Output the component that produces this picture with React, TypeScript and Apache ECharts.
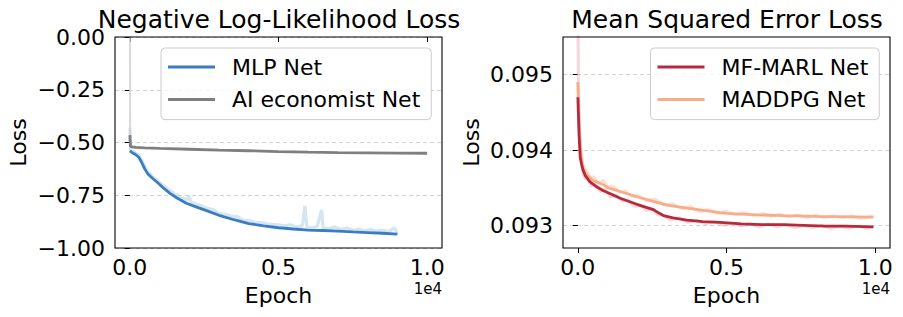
import React, { useEffect, useRef } from "react";
import * as echarts from "echarts";

const FONT = "DejaVu Sans";

// Left panel: Negative Log-Likelihood Loss
const mlpSmooth: number[][] = [
  [0, -0.54], [100, -0.55], [200, -0.558], [300, -0.57], [400, -0.595], [500, -0.625],
  [600, -0.648], [750, -0.668], [900, -0.686], [1100, -0.712], [1350, -0.741], [1600, -0.764],
  [1900, -0.788], [2250, -0.806], [2600, -0.824], [3000, -0.845], [3500, -0.866], [4000, -0.884],
  [4500, -0.895], [5000, -0.904], [5500, -0.91], [6000, -0.915], [6500, -0.917], [7000, -0.92],
  [7500, -0.924], [8000, -0.927], [8500, -0.93], [9000, -0.934],
];
const mlpRaw: number[][] = [
  [0, -0.43], [30, -0.545], [100, -0.54], [200, -0.552], [300, -0.56], [400, -0.585], [500, -0.615],
  [600, -0.64], [700, -0.652], [800, -0.668], [900, -0.677], [1000, -0.69], [1100, -0.7],
  [1200, -0.712], [1300, -0.725], [1400, -0.73], [1500, -0.745], [1600, -0.748], [1700, -0.762],
  [1800, -0.765], [1900, -0.772], [2000, -0.755], [2050, -0.78], [2200, -0.79], [2400, -0.8],
  [2600, -0.812], [2800, -0.818], [3000, -0.835], [3200, -0.84], [3400, -0.85], [3600, -0.85],
  [3800, -0.868], [4000, -0.87], [4200, -0.878], [4400, -0.88], [4600, -0.885], [4800, -0.888],
  [5000, -0.89], [5200, -0.895], [5400, -0.89], [5600, -0.9], [5800, -0.895], [5890, -0.8],
  [5950, -0.9], [6100, -0.905], [6300, -0.898], [6450, -0.82], [6500, -0.905], [6700, -0.908],
  [6900, -0.9], [7100, -0.912], [7300, -0.905], [7500, -0.915], [7700, -0.91], [7900, -0.918],
  [8100, -0.912], [8300, -0.92], [8500, -0.915], [8700, -0.922], [8900, -0.905], [9000, -0.93],
];
const aiSmooth: number[][] = [
  [0, -0.465], [20, -0.52], [200, -0.523], [500, -0.525], [1000, -0.528], [2000, -0.532],
  [3000, -0.536], [4000, -0.539], [5000, -0.543], [6000, -0.546], [7000, -0.548], [8000, -0.549],
  [9000, -0.55], [10000, -0.551],
];
const aiRaw: number[][] = [[0, 0.1], [10, -0.5], [30, -0.521], [200, -0.523]];

// Right panel: Mean Squared Error Loss
const mfSmooth: number[][] = [
  [0, 0.0947], [40, 0.0942], [80, 0.0939], [120, 0.09382], [170, 0.09374], [250, 0.09366],
  [400, 0.09358], [600, 0.09352], [861, 0.09346], [1150, 0.09341], [1423, 0.09336], [1700, 0.09332],
  [1985, 0.09328], [2300, 0.09324], [2543, 0.09321], [2700, 0.09317], [2880, 0.09313], [3200, 0.0931],
  [3666, 0.09307], [4200, 0.09305], [4785, 0.09304], [5500, 0.09302], [6200, 0.09301], [6916, 0.09301],
  [7600, 0.093], [8300, 0.09299], [9000, 0.09299], [9943, 0.09298],
];
const mfRaw: number[][] = [
  [0, 0.0962], [15, 0.095], [40, 0.0943], [80, 0.09392], [120, 0.09385], [170, 0.0937], [250, 0.09362],
  [350, 0.09362], [450, 0.09352], [600, 0.09355], [750, 0.09345], [900, 0.09348], [1100, 0.09338],
  [1300, 0.0934], [1500, 0.09332], [1700, 0.09334], [1900, 0.09325], [2100, 0.09327], [2300, 0.0932],
  [2500, 0.09322], [2700, 0.09314], [2900, 0.09313], [3100, 0.09307], [3400, 0.0931], [3700, 0.09304],
  [4000, 0.09307], [4300, 0.09302], [4600, 0.09305], [4900, 0.093], [5200, 0.09303], [5500, 0.09299],
  [5800, 0.09302], [6100, 0.09298], [6400, 0.09302], [6700, 0.09298], [7000, 0.09301], [7300, 0.09297],
  [7600, 0.093], [7900, 0.09297], [8200, 0.093], [8500, 0.09296], [8800, 0.09299], [9100, 0.09296],
  [9400, 0.09299], [9700, 0.09296], [9943, 0.09298],
];
const maddpgSmooth: number[][] = [
  [0, 0.0949], [30, 0.0945], [60, 0.0942], [100, 0.09395], [150, 0.0938], [200, 0.09373],
  [300, 0.09367], [500, 0.0936], [861, 0.09354], [1000, 0.0935], [1423, 0.09345], [1985, 0.09338],
  [2543, 0.09332], [3000, 0.09327], [3666, 0.09323], [4785, 0.09317], [5012, 0.09316], [6000, 0.09314],
  [6916, 0.09313], [8000, 0.09312], [9943, 0.09311],
];
const maddpgRaw: number[][] = [
  [0, 0.0949], [30, 0.0946], [60, 0.0942], [100, 0.094], [150, 0.09385], [200, 0.09378], [300, 0.09372],
  [400, 0.09365], [550, 0.09364], [700, 0.09356], [850, 0.0936], [1000, 0.09352], [1200, 0.09352],
  [1400, 0.09344], [1600, 0.09346], [1800, 0.09338], [2000, 0.0934], [2300, 0.09333], [2600, 0.09335],
  [2900, 0.09327], [3200, 0.09329], [3500, 0.09322], [3800, 0.09325], [4100, 0.09318], [4400, 0.09321],
  [4700, 0.09316], [5000, 0.09319], [5300, 0.09314], [5600, 0.09317], [5900, 0.09313], [6200, 0.09316],
  [6500, 0.09312], [6800, 0.09315], [7100, 0.09311], [7400, 0.09314], [7700, 0.0931], [8000, 0.09314],
  [8300, 0.0931], [8600, 0.09313], [8900, 0.0931], [9200, 0.09313], [9500, 0.09309], [9943, 0.09312],
];

const xTicks = [0, 5000, 10000];
const rightYTicks = [0.093, 0.094, 0.095];
const titles = ["Negative Log-Likelihood Loss", "Mean Squared Error Loss"];
const leftNames = ["MLP Net", "AI economist Net"];
const rightNames = ["MF-MARL Net", "MADDPG Net"];

const GRIDS = [
  { left: 115, top: 37, width: 327, height: 211 },
  { left: 563, top: 37, width: 327, height: 211 },
];

export default function App() {
  const ref = useRef<HTMLDivElement>(null);
  useEffect(() => {
    if (!ref.current) return;
    const chart = echarts.init(ref.current, undefined, { renderer: "svg" });
    const txt = { fontFamily: FONT, color: "#000" };
    const xAxisBase = (gi: number) => ({
      type: "value",
      gridIndex: gi,
      min: -500,
      max: 10500,
      name: "Epoch",
      nameLocation: "middle",
      nameGap: 36,
      nameTextStyle: { ...txt, fontSize: 22 },
      axisLine: { show: false },
      axisTick: { show: true, length: 5, customValues: xTicks, lineStyle: { color: "#000", width: 1 } },
      axisLabel: {
        ...txt,
        fontSize: 22,
        margin: 8,
        customValues: xTicks,
        formatter: (v: number) => (v / 10000).toFixed(1),
      },
      splitLine: { show: false },
    });
    const lineS = (name: string, data: number[][], color: string, width: number, gi: number, opacity = 1, z = 2) => ({
      type: "line",
      name,
      data,
      xAxisIndex: gi,
      yAxisIndex: gi,
      showSymbol: false,
      symbol: "none",
      clip: true,
      z,
      lineStyle: { color, width, opacity },
      itemStyle: { color },
    });
    const legendBase = (names: string[], left: number) => ({
      data: names,
      orient: "vertical",
      left,
      top: 48,
      icon: "rect",
      itemWidth: 47,
      itemHeight: 3,
      itemGap: 10.6,
      padding: [8, 11, 9, 7],
      backgroundColor: "rgba(255,255,255,0.8)",
      borderColor: "#cccccc",
      borderWidth: 1,
      borderRadius: 4,
      textStyle: { ...txt, fontSize: 22, padding: [0, 0, 0, 12] },
      selectedMode: false,
    });
    chart.setOption({
      animation: false,
      textStyle: { fontFamily: FONT },
      title: [
        { text: titles[0], left: 279, top: 7, padding: 0, textAlign: "center", textStyle: { ...txt, fontSize: 25, fontWeight: "normal" } },
        { text: titles[1], left: 727, top: 7, padding: 0, textAlign: "center", textStyle: { ...txt, fontSize: 25, fontWeight: "normal" } },
      ],
      grid: GRIDS.map((g) => ({ ...g, containLabel: false })),
      legend: [legendBase(leftNames, 161), legendBase(rightNames, 650.5)],
      xAxis: [xAxisBase(0), xAxisBase(1)],
      yAxis: [
        {
          type: "value",
          gridIndex: 0,
          min: -1,
          max: 0,
          interval: 0.25,
          name: "Loss",
          nameLocation: "middle",
          nameGap: 86,
          nameTextStyle: { ...txt, fontSize: 22 },
          axisLine: { show: false },
          axisTick: { show: true, length: 5, lineStyle: { color: "#000", width: 1 } },
          axisLabel: {
            ...txt,
            fontSize: 22,
            margin: 10,
            formatter: (v: number) => (v < 0 ? "\u2212" : "") + Math.abs(v).toFixed(2),
          },
          splitLine: { show: true, lineStyle: { color: "#d3d3d3", type: [4, 3], width: 1 } },
        },
        {
          type: "value",
          gridIndex: 1,
          min: 0.0927,
          max: 0.0955,
          name: "Loss",
          nameLocation: "middle",
          nameGap: 81,
          nameTextStyle: { ...txt, fontSize: 22 },
          axisLine: { show: false },
          axisTick: { show: true, length: 5, customValues: rightYTicks, lineStyle: { color: "#000", width: 1 } },
          axisLabel: {
            ...txt,
            fontSize: 22,
            margin: 10,
            customValues: rightYTicks,
            formatter: (v: number) => v.toFixed(3),
          },
          splitLine: { show: true, lineStyle: { color: "#d3d3d3", type: [4, 3], width: 1 } },
        },
      ],
      series: [
        lineS("MLP raw", mlpRaw, "#a9cbe8", 3.2, 0, 0.5, 1),
        lineS("AI raw", aiRaw, "#cfcfcf", 2, 0, 0.8, 1),
        lineS(leftNames[0], mlpSmooth, "#3a7dc0", 2.8, 0),
        lineS(leftNames[1], aiSmooth, "#7f7f7f", 2.8, 0),
        lineS("MF raw", mfRaw, "#eaa3ab", 3, 1, 0.45, 1),
        lineS("MADDPG raw", maddpgRaw, "#fbc6ad", 3, 1, 0.55, 1),
        lineS(rightNames[1], maddpgSmooth, "#f6ad8b", 2.8, 1),
        lineS(rightNames[0], mfSmooth, "#b82a3b", 2.8, 1, 1, 3),
      ],
      graphic: [
        ...GRIDS.map((g) => ({
          type: "rect",
          shape: { x: g.left, y: g.top, width: g.width, height: g.height },
          style: { fill: "none", stroke: "#000", lineWidth: 1.1 },
          z: 100,
          silent: true,
        })),
        ...GRIDS.map((g) => ({
          type: "text",
          x: g.left + g.width,
          y: 289,
          style: { text: "1e4", fontFamily: FONT, fontSize: 15, fill: "#000", textAlign: "right", textVerticalAlign: "middle" },
          z: 100,
        })),
      ],
    });
    return () => chart.dispose();
  }, []);
  return <div ref={ref} style={{ position: "absolute", left: 0, top: 0, width: 903, height: 317 }} />;
}
